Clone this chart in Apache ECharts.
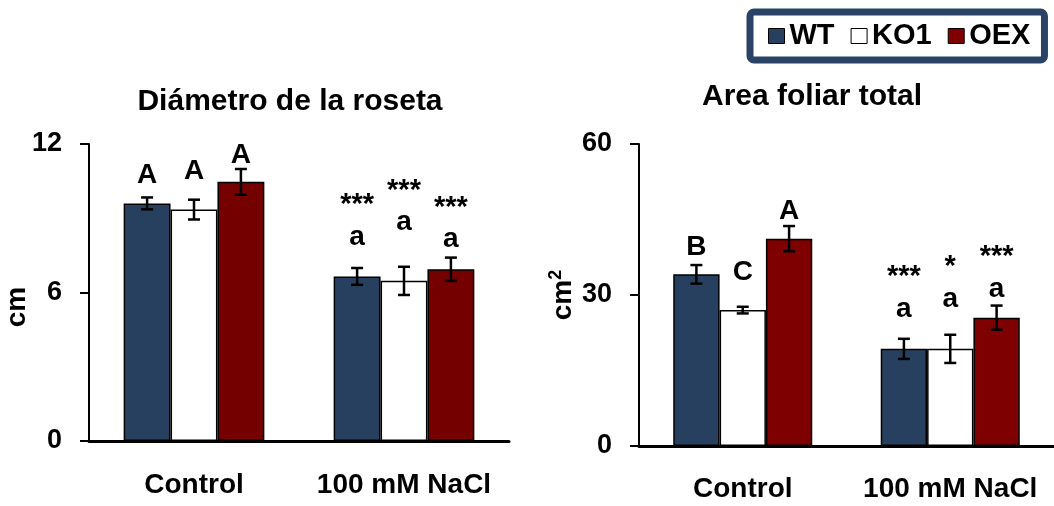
<!DOCTYPE html>
<html>
<head>
<meta charset="utf-8">
<script src="https://cdn.jsdelivr.net/npm/echarts@6/dist/echarts.min.js"></script>
<style>
  html, body { margin: 0; padding: 0; background: #fff; }
  #chart { width: 1054px; height: 506px; }
</style>
</head>
<body>
<div id="chart"></div>
<script>
// ---- Data -------------------------------------------------------------
const treatments = ['Control', '100 mM NaCl'];
const genotypes = ['WT', 'KO1', 'OEX'];

// Rosette diameter (cm): mean and standard error per treatment
const diamWT = [9.6, 6.65];
const diamWTErr = [0.24, 0.34];
const diamKO1 = [9.35, 6.47];
const diamKO1Err = [0.40, 0.57];
const diamOEX = [10.47, 6.94];
const diamOEXErr = [0.52, 0.47];
const diamLetters = [['A', 'a'], ['A', 'a'], ['A', 'a']];
const diamStars = [['', '***'], ['', '***'], ['', '***']];
const diamAxis = [0, 12, 6];          // min, max, interval

// Total leaf area (cm²)
const areaWT = [34.1, 19.3];
const areaWTErr = [1.85, 2.0];
const areaKO1 = [27.0, 19.3];
const areaKO1Err = [0.66, 2.8];
const areaOEX = [41.2, 25.5];
const areaOEXErr = [2.5, 2.4];
const areaLetters = [['B', 'a'], ['C', 'a'], ['A', 'a']];
const areaStars = [['', '***'], ['', '*'], ['', '***']];
const areaAxis = [0, 60, 30];

// ---- Style / layout ---------------------------------------------------
const FONT = '"Liberation Sans", Arial, Helvetica, sans-serif';
const NAVY = '#27405f';
const BAR_CAT_GAP = 0.33;
const STAR_ABOVE_LETTER = 32;          // px between letter and asterisks
// how far (px) each significance letter sits above its error bar
const diamLift = [[22, 31], [28, 44], [14, 18]];
const areaLift = [[18, 29.5], [34, 35.5], [15, 16.5]];

const palette = {
  left: [NAVY, '#ffffff', '#740000'],
  right: [NAVY, '#ffffff', '#7e0000']
};

function barSeries(name, values, color, axisIdx) {
  return {
    type: 'bar', name: name,
    xAxisIndex: axisIdx, yAxisIndex: axisIdx,
    data: values,
    barGap: '0%', barCategoryGap: (BAR_CAT_GAP * 100) + '%',
    itemStyle: { color: color, borderColor: '#000', borderWidth: 1.5 },
    emphasis: { disabled: true },
    z: 2
  };
}

function centered(text, font) {
  return { text: text, font: font, fill: '#000',
           textAlign: 'center', textVerticalAlign: 'middle',
           align: 'center', verticalAlign: 'middle' };
}

// error bar + significance letters for one genotype
function errSeries(name, gi, means, errs, letters, stars, lifts, axisIdx) {
  return {
    type: 'custom', name: name,
    xAxisIndex: axisIdx, yAxisIndex: axisIdx,
    data: means.map((v, i) => [i, v]),
    encode: { x: 0, y: 1 },
    z: 5, silent: true,
    renderItem: function (params, api) {
      const ci = params.dataIndex;
      const catW = api.size([1, 0])[0];
      const barW = catW * (1 - BAR_CAT_GAP) / 3;
      const cx = api.coord([ci, 0])[0] + (gi - 1) * barW;
      const yTop = api.coord([ci, means[ci] + errs[ci]])[1];
      const yBot = api.coord([ci, means[ci] - errs[ci]])[1];
      const cap = 6;
      const ls = { stroke: '#000', lineWidth: 2.5 };
      const letterY = yTop - lifts[ci];
      const children = [
        { type: 'line', shape: { x1: cx, y1: yTop, x2: cx, y2: yBot }, style: ls },
        { type: 'line', shape: { x1: cx - cap, y1: yTop, x2: cx + cap, y2: yTop }, style: ls },
        { type: 'line', shape: { x1: cx - cap, y1: yBot, x2: cx + cap, y2: yBot }, style: ls },
        { type: 'text', x: cx, y: letterY, style: centered(letters[ci], 'bold 28px ' + FONT) }
      ];
      if (stars[ci]) {
        children.push({ type: 'text', x: cx, y: letterY - STAR_ABOVE_LETTER,
                        style: centered(stars[ci], 'bold 29px ' + FONT) });
      }
      return { type: 'group', children: children };
    }
  };
}

function valueAxis(gridIndex, range) {
  return {
    type: 'value', gridIndex: gridIndex,
    min: range[0], max: range[1], interval: range[2],
    axisLine: { show: true, lineStyle: { color: '#000', width: 2 } },
    axisTick: { show: true, length: 9, lineStyle: { color: '#000', width: 2 } },
    splitLine: { show: false },
    axisLabel: { margin: 27, fontSize: 27, fontWeight: 'bold', color: '#000', fontFamily: FONT }
  };
}

function categoryAxis(gridIndex, margin) {
  return {
    type: 'category', gridIndex: gridIndex, data: treatments,
    axisLine: { show: true, lineStyle: { color: '#000', width: 3 } },
    axisTick: { show: false },
    axisLabel: { interval: 0, hideOverlap: false, margin: margin, fontSize: 28, lineHeight: 28,
                 fontWeight: 'bold', color: '#000', fontFamily: FONT }
  };
}

const diamMeans = [diamWT, diamKO1, diamOEX];
const diamErrs = [diamWTErr, diamKO1Err, diamOEXErr];
const areaMeans = [areaWT, areaKO1, areaOEX];
const areaErrs = [areaWTErr, areaKO1Err, areaOEXErr];

const series = [];
genotypes.forEach((g, gi) => series.push(barSeries(g, diamMeans[gi], palette.left[gi], 0)));
genotypes.forEach((g, gi) => series.push(barSeries(g, areaMeans[gi], palette.right[gi], 1)));
genotypes.forEach((g, gi) => series.push(errSeries(g, gi, diamMeans[gi], diamErrs[gi],
  diamLetters[gi], diamStars[gi], diamLift[gi], 0)));
genotypes.forEach((g, gi) => series.push(errSeries(g, gi, areaMeans[gi], areaErrs[gi],
  areaLetters[gi], areaStars[gi], areaLift[gi], 1)));

const chart = echarts.init(document.getElementById('chart'), null, { renderer: 'canvas' });
chart.setOption({
  animation: false,
  backgroundColor: '#fff',
  grid: [
    { left: 89, top: 144, width: 420, height: 297 },
    { left: 639, top: 144, width: 423, height: 302 }
  ],
  xAxis: [categoryAxis(0, 30), categoryAxis(1, 29)],
  yAxis: [valueAxis(0, diamAxis), valueAxis(1, areaAxis)],
  legend: {
    left: 750, top: 12,
    orient: 'horizontal',
    padding: [8, 14, 8, 18],
    itemWidth: 16, itemHeight: 15, itemGap: 16,
    icon: 'rect',
    borderColor: '#2a4265', borderWidth: 7, borderRadius: 4,
    backgroundColor: '#fff',
    selectedMode: false,
    textStyle: { fontSize: 29, lineHeight: 32, fontWeight: 'bold', color: '#000', fontFamily: FONT },
    data: genotypes.map((g, gi) => ({
      name: g,
      itemStyle: { color: palette.right[gi], borderColor: '#000', borderWidth: 1 }
    }))
  },
  graphic: [
    { type: 'text', x: 290, y: 102, style: centered('Diámetro de la roseta', 'bold 30px ' + FONT) },
    { type: 'text', x: 812, y: 97, style: centered('Area foliar total', 'bold 30px ' + FONT) },
    { type: 'text', x: 17, y: 307, rotation: Math.PI / 2, style: centered('cm', 'bold 28px ' + FONT) },
    { type: 'text', x: 562, y: 295, rotation: Math.PI / 2,
      style: {
        text: '{u|cm}{s|2}', fill: '#000',
        textAlign: 'center', textVerticalAlign: 'middle', align: 'center', verticalAlign: 'middle',
        rich: {
          u: { fontSize: 28, fontWeight: 'bold', fontFamily: FONT, lineHeight: 30, verticalAlign: 'bottom' },
          s: { fontSize: 18, fontWeight: 'bold', fontFamily: FONT, lineHeight: 18, verticalAlign: 'top' }
        }
      } }
  ],
  series: series
});
</script>
</body>
</html>
